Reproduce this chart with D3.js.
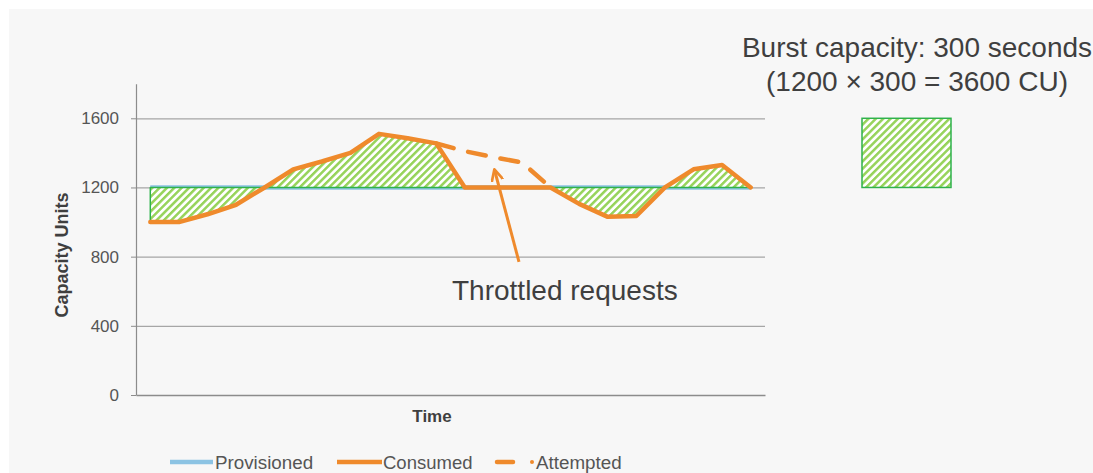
<!DOCTYPE html>
<html>
<head>
<meta charset="utf-8">
<script src="https://cdn.jsdelivr.net/npm/d3@7"></script>
<style>
  html, body { margin: 0; padding: 0; background: #ffffff; }
  svg { display: block; font-family: "Liberation Sans", Arial, sans-serif; }
</style>
</head>
<body>
<svg id="chart" width="1093" height="473"></svg>
<script>
// Time periods (unlabelled categories on the x axis)
const periods = [1, 2, 3, 4, 5, 6, 7, 8, 9, 10, 11, 12, 13, 14, 15, 16, 17, 18, 19, 20, 21, 22];
// Provisioned throughput (capacity units)
const provisioned = [1200, 1200, 1200, 1200, 1200, 1200, 1200, 1200, 1200, 1200, 1200,
                     1200, 1200, 1200, 1200, 1200, 1200, 1200, 1200, 1200, 1200, 1200];
// Consumed capacity: capped at the provisioned level while throttled
const consumed = [1000, 1000, 1045, 1100, 1200, 1305, 1350, 1400, 1510, 1485, 1455,
                  1200, 1200, 1200, 1200, 1105, 1030, 1035, 1200, 1305, 1330, 1200];
// Requests attempted during the throttled stretch
const attempted = [null, null, null, null, null, null, null, null, null, null, 1455,
                   1410, 1375, 1345, 1200, null, null, null, null, null, null, null];
const yTicks = [0, 400, 800, 1200, 1600];
const legendLabels = ["Provisioned", "Consumed", "Attempted"];
const burstTitle = ["Burst capacity: 300 seconds", "(1200 \u00d7 300 = 3600 CU)"];
const burstRange = [1200, 1600];

const orange = "#ef8a2c", blue = "#8cc3e3", green = "#2fb24c", stripe = "#96d35a";
const textDark = "#3f3f3f", textMid = "#555555";

const svg = d3.select("#chart");

// Light slide background
svg.append("rect").attr("x", 9).attr("y", 9).attr("width", 1084).attr("height", 464)
  .attr("fill", "#f7f7f7");

// Diagonal hatch used for the burst areas
const defs = svg.append("defs");
const pat = defs.append("pattern").attr("id", "hatch")
  .attr("patternUnits", "userSpaceOnUse").attr("width", 5.2).attr("height", 5.2)
  .attr("patternTransform", "rotate(45)");
pat.append("rect").attr("width", 5.2).attr("height", 5.2).attr("fill", "#ffffff");
pat.append("rect").attr("width", 2.5).attr("height", 5.2).attr("fill", stripe);

defs.append("marker").attr("id", "arrowHead")
  .attr("viewBox", "0 0 12 12").attr("refX", 11).attr("refY", 6)
  .attr("markerUnits", "userSpaceOnUse").attr("markerWidth", 13).attr("markerHeight", 13)
  .attr("orient", "auto")
  .append("path").attr("d", "M1,1 L11,6 L1,11")
  .attr("fill", "none").attr("stroke", orange).attr("stroke-width", 2.5)
  .attr("stroke-linecap", "round").attr("stroke-linejoin", "round");

const left = 136, right = 765, bottom = 395;
const x = d3.scalePoint().domain(periods).range([left, right]).padding(0.5);
const y = d3.scaleLinear().domain([0, 1800]).range([bottom, 83.7]);

// Gridlines
svg.append("g").attr("transform", `translate(${left},0)`)
  .call(d3.axisLeft(y).tickValues(yTicks.filter(v => v > 0)).tickSize(-(right - left)).tickFormat(""))
  .call(g => g.select(".domain").remove())
  .call(g => g.selectAll("line").attr("stroke", "#a6a6a6").attr("stroke-width", 1.2));

// Y axis
svg.append("g").attr("transform", `translate(${left},0)`)
  .call(d3.axisLeft(y).tickValues(yTicks).tickFormat(d3.format("d"))
    .tickSize(5).tickSizeOuter(0).tickPadding(12))
  .call(g => g.select(".domain").attr("stroke", "#8c8c8c").attr("stroke-width", 1.2))
  .call(g => g.selectAll("line").attr("stroke", "#8c8c8c"))
  .call(g => g.selectAll("text").attr("fill", textMid).attr("font-size", 17)
    .attr("font-family", "Liberation Sans, Arial, sans-serif"));

// X axis baseline (no tick labels)
svg.append("g").attr("transform", `translate(0,${bottom})`)
  .call(d3.axisBottom(d3.scaleLinear().range([left, right])).tickValues([]).tickSizeOuter(0))
  .call(g => g.select(".domain").attr("stroke", "#8c8c8c").attr("stroke-width", 1.5));

// Axis titles
svg.append("text").attr("x", 432).attr("y", 422).attr("text-anchor", "middle")
  .attr("font-size", 17).attr("font-weight", "bold").attr("fill", textDark).text("Time");
svg.append("text").attr("transform", "translate(68,255) rotate(-90)").attr("text-anchor", "middle")
  .attr("font-size", 18).attr("font-weight", "bold").attr("fill", textDark).text("Capacity Units");

const rows = periods.map((p, i) => ({ p, prov: provisioned[i], cons: consumed[i], att: attempted[i] }));

// Provisioned line
svg.append("path").datum(rows)
  .attr("d", d3.line().x(d => x(d.p)).y(d => y(d.prov)))
  .attr("fill", "none").attr("stroke", blue).attr("stroke-width", 4.5);

// Hatched difference between consumed and provisioned
svg.append("path").datum(rows)
  .attr("d", d3.area().x(d => x(d.p)).y0(d => y(d.prov)).y1(d => y(d.cons)))
  .attr("fill", "url(#hatch)").attr("stroke", green).attr("stroke-width", 1.5)
  .attr("stroke-linejoin", "round");

// Attempted (dashed)
svg.append("path").datum(rows)
  .attr("d", d3.line().defined(d => d.att != null).x(d => x(d.p)).y(d => y(d.att)))
  .attr("fill", "none").attr("stroke", orange).attr("stroke-width", 4.5)
  .attr("stroke-dasharray", "18,15").attr("stroke-linecap", "round");

// Consumed line
svg.append("path").datum(rows)
  .attr("d", d3.line().x(d => x(d.p)).y(d => y(d.cons)))
  .attr("fill", "none").attr("stroke", orange).attr("stroke-width", 4.5)
  .attr("stroke-linejoin", "round").attr("stroke-linecap", "round");

// Annotation: throttled requests
svg.append("line")
  .attr("x1", x(periods[13]) - 3).attr("y1", y(770))
  .attr("x2", x(periods[12]) + 1).attr("y2", y(1305))
  .attr("stroke", orange).attr("stroke-width", 3)
  .attr("marker-end", "url(#arrowHead)");
svg.append("text").attr("x", 452).attr("y", 300)
  .attr("font-size", 28).attr("fill", textDark).text("Throttled requests");

// Burst capacity note and sample block
svg.append("text").attr("x", 917).attr("y", 57).attr("text-anchor", "middle")
  .attr("font-size", 28).attr("fill", textDark).text(burstTitle[0]);
svg.append("text").attr("x", 917).attr("y", 91).attr("text-anchor", "middle")
  .attr("font-size", 28).attr("fill", textDark).text(burstTitle[1]);
svg.append("rect").attr("x", 862).attr("width", 89)
  .attr("y", y(burstRange[1])).attr("height", y(burstRange[0]) - y(burstRange[1]))
  .attr("fill", "url(#hatch)").attr("stroke", green).attr("stroke-width", 1.5);

// Legend
const lg = svg.append("g").attr("transform", "translate(0,462)");
lg.append("line").attr("x1", 170).attr("x2", 213).attr("stroke", blue).attr("stroke-width", 4.5);
lg.append("text").attr("x", 215).attr("y", 6.5).attr("font-size", 18.8).attr("fill", textMid).text(legendLabels[0]);
lg.append("line").attr("x1", 337).attr("x2", 382).attr("stroke", orange).attr("stroke-width", 4.5);
lg.append("text").attr("x", 383).attr("y", 6.5).attr("font-size", 18.5).attr("fill", textMid).text(legendLabels[1]);
lg.append("line").attr("x1", 497).attr("x2", 513).attr("stroke", orange).attr("stroke-width", 4.5)
  .attr("stroke-linecap", "round");
lg.append("circle").attr("cx", 532).attr("cy", 0).attr("r", 2).attr("fill", orange);
lg.append("text").attr("x", 536).attr("y", 6.5).attr("font-size", 18.8).attr("fill", textMid).text(legendLabels[2]);
</script>
</body>
</html>
